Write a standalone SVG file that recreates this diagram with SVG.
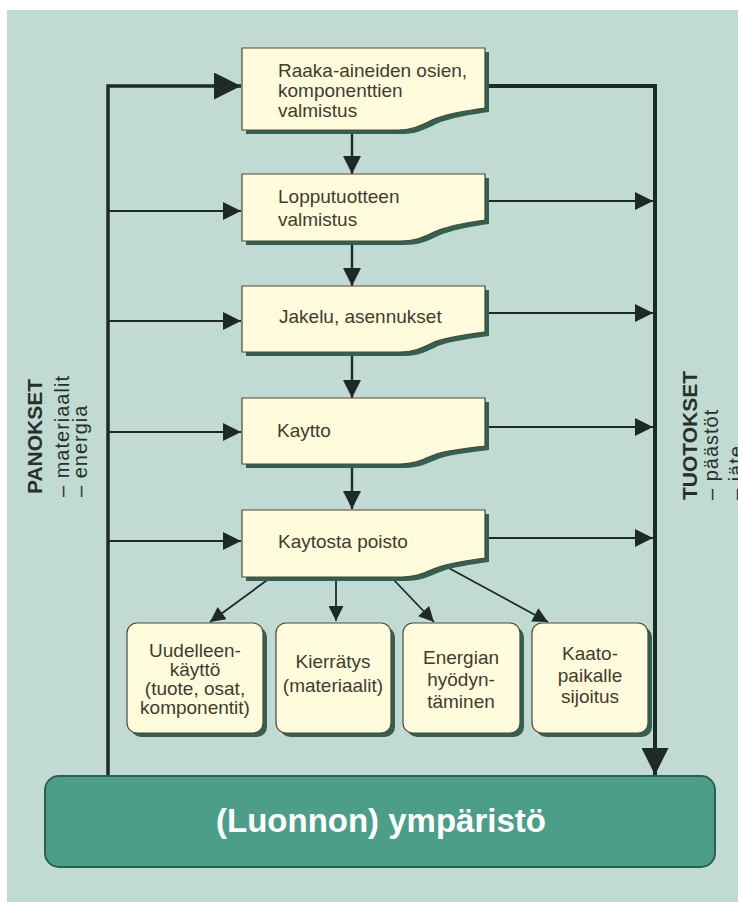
<svg xmlns="http://www.w3.org/2000/svg" width="738" height="902" viewBox="0 0 738 902">
<defs>
<style>
.bx{fill:#fffbdc;stroke:#4a4a3c;stroke-width:1.2}
.sh{fill:#35604f}
.t{font-family:"Liberation Sans",Arial,sans-serif;font-size:19px;fill:#3f3b2f}
.tc{font-family:"Liberation Sans",Arial,sans-serif;font-size:19px;fill:#3f3b2f;text-anchor:middle}
.side{font-family:"Liberation Sans",Arial,sans-serif;fill:#26302c}
.sl{font-size:20px;letter-spacing:1px}
.ln{fill:none;stroke:#1e2a27}
</style>
<marker id="ah" viewBox="0 0 10 10" refX="10" refY="5" markerWidth="18" markerHeight="18" markerUnits="userSpaceOnUse" orient="auto"><path d="M0,0 L10,5 L0,10 z" fill="#1e2a27"/></marker>
<marker id="ahs" viewBox="0 0 10 10" refX="10" refY="5" markerWidth="16" markerHeight="15" markerUnits="userSpaceOnUse" orient="auto"><path d="M0,0 L10,5 L0,10 z" fill="#1e2a27"/></marker>
<marker id="big" viewBox="0 0 10 10" refX="10" refY="5" markerWidth="28" markerHeight="27" markerUnits="userSpaceOnUse" orient="auto"><path d="M0,0 L10,5 L0,10 z" fill="#1e2a27"/></marker>
</defs>
<rect x="0" y="0" width="738" height="902" fill="#ffffff"/>
<rect x="7" y="10" width="731" height="892" fill="#c1dbd3"/>

<g id="connectors">
<path class="ln" stroke-width="3.5" d="M108,776 V86 H241" marker-end="url(#big)"/>
<path class="ln" stroke-width="4" d="M488,86 H655 V775" marker-end="url(#big)"/>
<path class="ln" stroke-width="2.2" d="M108,211 H241" marker-end="url(#ah)"/>
<path class="ln" stroke-width="2.2" d="M108,321 H241" marker-end="url(#ah)"/>
<path class="ln" stroke-width="2.2" d="M108,432 H241" marker-end="url(#ah)"/>
<path class="ln" stroke-width="2.2" d="M108,541 H241" marker-end="url(#ah)"/>
<path class="ln" stroke-width="2" d="M489,201 H653" marker-end="url(#ah)"/>
<path class="ln" stroke-width="2" d="M489,313 H653" marker-end="url(#ah)"/>
<path class="ln" stroke-width="2" d="M489,427 H653" marker-end="url(#ah)"/>
<path class="ln" stroke-width="2" d="M489,538 H653" marker-end="url(#ah)"/>
<path class="ln" stroke-width="2.4" d="M352,131 V174" marker-end="url(#ah)"/>
<path class="ln" stroke-width="2.4" d="M352,242 V286" marker-end="url(#ah)"/>
<path class="ln" stroke-width="2.4" d="M352,353 V398" marker-end="url(#ah)"/>
<path class="ln" stroke-width="2.4" d="M352,465 V509" marker-end="url(#ah)"/>
<path class="ln" stroke-width="1.8" d="M270,578 L210,622" marker-end="url(#ahs)"/>
<path class="ln" stroke-width="1.8" d="M336,578 V621" marker-end="url(#ahs)"/>
<path class="ln" stroke-width="1.8" d="M392,578 L434,622" marker-end="url(#ahs)"/>
<path class="ln" stroke-width="1.8" d="M445,566 L548,622" marker-end="url(#ahs)"/>
</g>

<g id="n1">
<path class="sh" transform="translate(4,4)" d="M242,48 H485 V108 C470,110 445,114 432,120 C420,126 412,130 398,130 H242 Z"/>
<path class="bx" d="M242,48 H485 V108 C470,110 445,114 432,120 C420,126 412,130 398,130 H242 Z"/>
<text class="t" x="278" y="77">Raaka-aineiden osien,</text>
<text class="t" x="278" y="97">komponenttien</text>
<text class="t" x="278" y="117">valmistus</text>
</g>

<g id="n2">
<path class="sh" transform="translate(4,4)" d="M242,174 H485 V220 C470,222 447,226 434,232 C422,238 414,241 400,241 H242 Z"/>
<path class="bx" d="M242,174 H485 V220 C470,222 447,226 434,232 C422,238 414,241 400,241 H242 Z"/>
<text class="t" x="278" y="203">Lopputuotteen</text>
<text class="t" x="278" y="226">valmistus</text>
</g>

<g id="n3">
<path class="sh" transform="translate(4,4)" d="M242,286 H485 V332 C470,334 447,337 434,342 C422,348 414,352 400,352 H242 Z"/>
<path class="bx" d="M242,286 H485 V332 C470,334 447,337 434,342 C422,348 414,352 400,352 H242 Z"/>
<text class="t" x="279" y="323">Jakelu, asennukset</text>
</g>

<g id="n4">
<path class="sh" transform="translate(4,4)" d="M242,398 H485 V446 C470,448 447,450 434,455 C422,460 414,464 400,464 H242 Z"/>
<path class="bx" d="M242,398 H485 V446 C470,448 447,450 434,455 C422,460 414,464 400,464 H242 Z"/>
<text class="t" x="277" y="437">Kaytto</text>
</g>

<g id="n5">
<path class="sh" transform="translate(4,4)" d="M242,510 H485 V558 C470,560 448,563 436,568 C424,573 416,577 402,577 H242 Z"/>
<path class="bx" d="M242,510 H485 V558 C470,560 448,563 436,568 C424,573 416,577 402,577 H242 Z"/>
<text class="t" x="278" y="548">Kaytosta poisto</text>
</g>

<g id="nA">
<rect class="sh" x="131" y="627" width="136" height="110" rx="10"/>
<rect class="bx" x="127" y="623" width="136" height="110" rx="10"/>
<text class="tc" x="195" y="657">Uudelleen-</text>
<text class="tc" x="195" y="676">käyttö</text>
<text class="tc" x="195" y="695">(tuote, osat,</text>
<text class="tc" x="195" y="714">komponentit)</text>
</g>

<g id="nB">
<rect class="sh" x="280" y="627" width="115" height="110" rx="10"/>
<rect class="bx" x="276" y="623" width="115" height="110" rx="10"/>
<text class="tc" x="333" y="668">Kierrätys</text>
<text class="tc" x="333" y="692">(materiaalit)</text>
</g>

<g id="nC">
<rect class="sh" x="407" y="627" width="117" height="110" rx="10"/>
<rect class="bx" x="403" y="623" width="117" height="110" rx="10"/>
<text class="tc" x="461" y="664">Energian</text>
<text class="tc" x="461" y="686">hyödyn-</text>
<text class="tc" x="461" y="708">täminen</text>
</g>

<g id="nD">
<rect class="sh" x="536" y="627" width="116" height="110" rx="10"/>
<rect class="bx" x="532" y="623" width="116" height="110" rx="10"/>
<text class="tc" x="590" y="660">Kaato-</text>
<text class="tc" x="590" y="682">paikalle</text>
<text class="tc" x="590" y="703">sijoitus</text>
</g>

<g id="env">
<rect x="45" y="776" width="670" height="91" rx="14" fill="#4d9e89" stroke="#2c5f51" stroke-width="2"/>
<text x="381" y="832" text-anchor="middle" font-family="'Liberation Sans',Arial,sans-serif" font-weight="bold" font-size="33" fill="#ffffff">(Luonnon) ympäristö</text>
</g>

<g id="panokset">
<text class="side" transform="translate(42,494) rotate(-90)" font-size="21" font-weight="bold">PANOKSET</text>
<text class="side sl" transform="translate(69,497) rotate(-90)">– materiaalit</text>
<text class="side sl" transform="translate(87,497) rotate(-90)">– energia</text>
</g>

<g id="tuotokset">
<text class="side" transform="translate(697,500) rotate(-90)" font-size="21" font-weight="bold">TUOTOKSET</text>
<text class="side sl" transform="translate(718,500) rotate(-90)">– päästöt</text>
<text class="side sl" transform="translate(743,500) rotate(-90)">– jäte</text>
</g>
</svg>
